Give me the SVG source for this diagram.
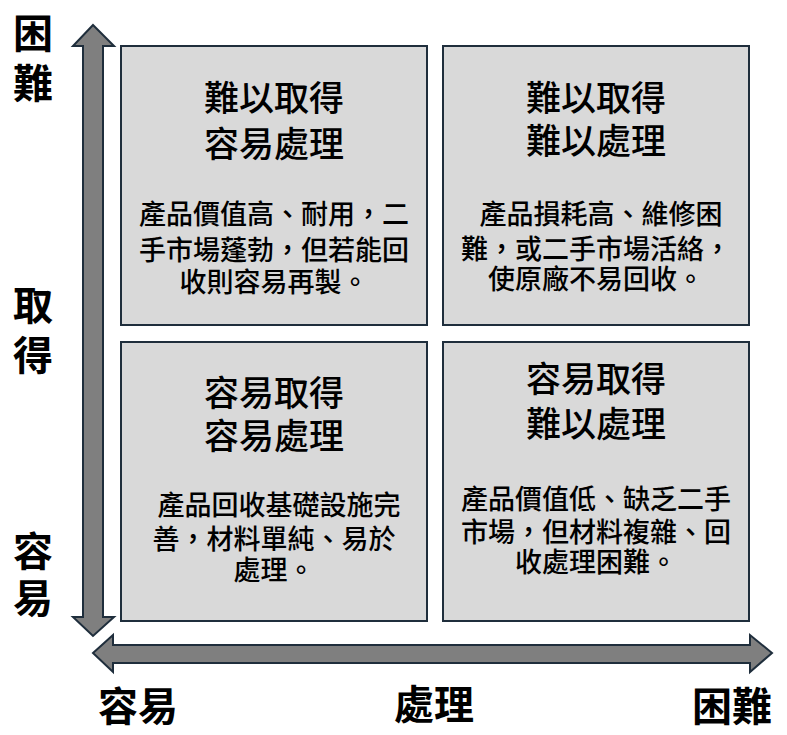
<svg xmlns="http://www.w3.org/2000/svg" width="787" height="735" viewBox="0 0 787 735">
<style>
.box{fill:#d9d9d9;stroke:#1f2e3c;stroke-width:2}
.arrow{fill:#7f7f7f;stroke:#1f2e3c;stroke-width:2;stroke-linejoin:miter}
text{font-family:"Noto Sans CJK TC","Noto Sans CJK SC",sans-serif;fill:#000;text-anchor:middle}
.title{font-size:35px;font-weight:500}
.body{font-size:27px;font-weight:500}
.axis{font-size:40px;font-weight:bold}
</style>
<rect width="787" height="735" fill="#fff"/>
<g id="connectors">
<polygon class="arrow" points="93,25 114,46 103,46 103,617 114,617 93,636 73,617 83,617 83,46 73,46"/>
<polygon class="arrow" points="93,653 113,635 113,645 750,645 750,635 772,653 750,672 750,663 113,663 113,672"/>
</g>
<g id="axis-y">
<text class="axis" x="33" y="48">困</text>
<text class="axis" x="33" y="98">難</text>
<text class="axis" x="33" y="320">取</text>
<text class="axis" x="33" y="370">得</text>
<text class="axis" x="33" y="566">容</text>
<text class="axis" x="33" y="613">易</text>
</g>
<g id="axis-x">
<text class="axis" x="138" y="721">容易</text>
<text class="axis" x="434" y="719">處理</text>
<text class="axis" x="732" y="721">困難</text>
</g>
<g id="node-tl">
<rect class="box" x="121" y="46" width="306" height="279"/>
<text class="title" x="274" y="111">難以取得</text>
<text class="title" x="274" y="157">容易處理</text>
<text class="body" x="274" y="224">產品價值高、耐用，二</text>
<text class="body" x="274" y="260">手市場蓬勃，但若能回</text>
<text class="body" x="274" y="292">收則容易再製。</text>
</g>
<g id="node-tr">
<rect class="box" x="443" y="46" width="306" height="279"/>
<text class="title" x="596" y="111">難以取得</text>
<text class="title" x="596" y="154">難以處理</text>
<text class="body" x="601" y="224">產品損耗高、維修困</text>
<text class="body" x="596" y="259">難，或二手市場活絡，</text>
<text class="body" x="596" y="289">使原廠不易回收。</text>
</g>
<g id="node-bl">
<rect class="box" x="121" y="342" width="306" height="279"/>
<text class="title" x="274" y="406">容易取得</text>
<text class="title" x="274" y="449">容易處理</text>
<text class="body" x="279" y="515">產品回收基礎設施完</text>
<text class="body" x="274" y="549">善，材料單純、易於</text>
<text class="body" x="274" y="580">處理。</text>
</g>
<g id="node-br">
<rect class="box" x="443" y="342" width="306" height="279"/>
<text class="title" x="596" y="392">容易取得</text>
<text class="title" x="596" y="437">難以處理</text>
<text class="body" x="596" y="509">產品價值低、缺乏二手</text>
<text class="body" x="596" y="542">市場，但材料複雜、回</text>
<text class="body" x="596" y="572">收處理困難。</text>
</g>
</svg>
